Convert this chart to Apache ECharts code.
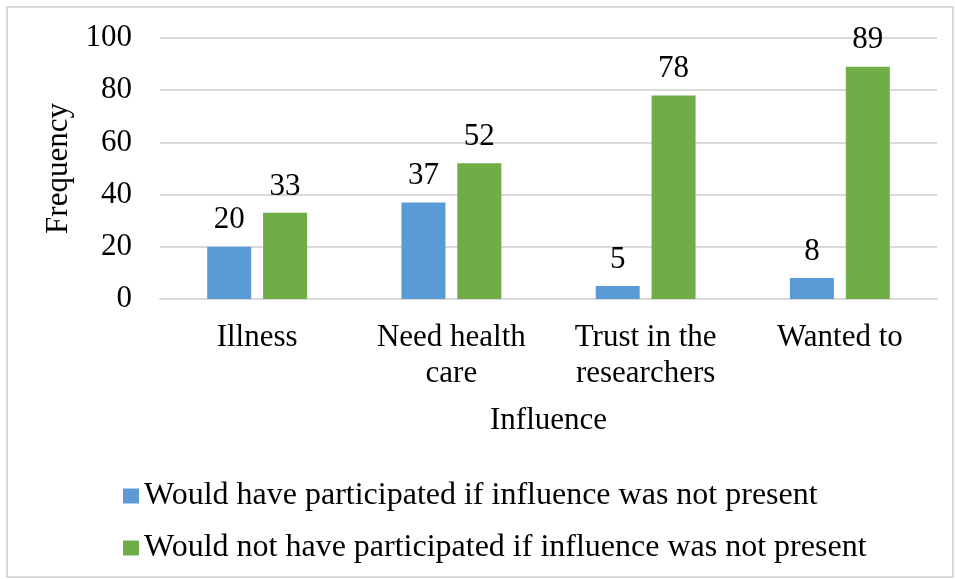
<!DOCTYPE html>
<html>
<head>
<meta charset="utf-8">
<script src="https://cdn.jsdelivr.net/npm/echarts@6/dist/echarts.min.js"></script>
<style>
  html, body { margin: 0; padding: 0; background: #fff; }
  #chart { width: 955px; height: 579px; }
</style>
</head>
<body>
<div id="chart"></div>
<script>
const categories = ['Illness', 'Need health\ncare', 'Trust in the\nresearchers', 'Wanted to'];
const wouldHave = [20, 37, 5, 8];
const wouldNot = [33, 52, 78, 89];
const seriesNames = [
  'Would have participated if influence was not present',
  'Would not have participated if influence was not present'
];

const FONT = '"Liberation Serif", "Times New Roman", serif';
const chart = echarts.init(document.getElementById('chart'));

const labelStyle = {
  show: true,
  position: 'top',
  distance: 11,
  fontFamily: FONT,
  fontSize: 31,
  color: '#000'
};

chart.setOption({
  animation: false,
  textStyle: { fontFamily: FONT },
  graphic: [{
    type: 'rect',
    shape: { x: 7, y: 7, width: 946, height: 570 },
    style: { fill: 'none', stroke: '#d9d9d9', lineWidth: 2 }
  }],
  grid: { left: 160, right: 18, top: 38, bottom: 280 },
  xAxis: {
    type: 'category',
    data: categories,
    name: 'Influence',
    nameLocation: 'middle',
    nameGap: 106,
    nameTextStyle: { fontFamily: FONT, fontSize: 31, color: '#000' },
    axisLine: { lineStyle: { color: '#d9d9d9', width: 2 } },
    axisTick: { show: false },
    axisLabel: {
      fontFamily: FONT, fontSize: 31, color: '#000',
      lineHeight: 36, margin: 21, interval: 0
    }
  },
  yAxis: {
    type: 'value',
    min: 0, max: 100, interval: 20,
    name: 'Frequency',
    nameLocation: 'middle',
    nameGap: 86,
    nameTextStyle: { fontFamily: FONT, fontSize: 31, color: '#000' },
    axisLine: { show: false },
    axisTick: { show: false },
    axisLabel: { fontFamily: FONT, fontSize: 31, color: '#000', margin: 28 },
    splitLine: { lineStyle: { color: '#d9d9d9', width: 2 } }
  },
  legend: {
    orient: 'vertical',
    left: 118,
    top: 475,
    itemWidth: 16,
    itemHeight: 15,
    itemGap: 20,
    icon: 'rect',
    textStyle: { fontFamily: FONT, fontSize: 32, color: '#000' },
    data: seriesNames
  },
  series: [
    {
      name: seriesNames[0],
      type: 'bar',
      data: wouldHave,
      barWidth: 44,
      barGap: '27%',
      itemStyle: { color: '#5B9BD5' },
      label: labelStyle
    },
    {
      name: seriesNames[1],
      type: 'bar',
      data: wouldNot,
      barWidth: 44,
      itemStyle: { color: '#70AD47' },
      label: labelStyle
    }
  ]
});
</script>
</body>
</html>
